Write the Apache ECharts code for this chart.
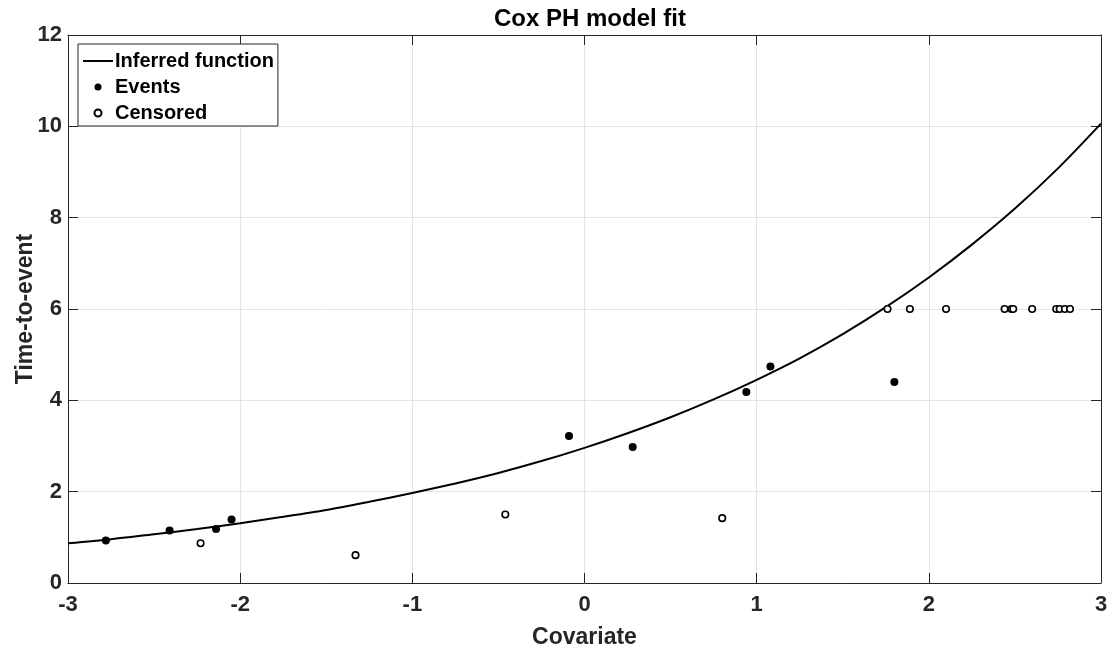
<!DOCTYPE html>
<html><head><meta charset="utf-8">
<script src="https://cdn.jsdelivr.net/npm/echarts@6/dist/echarts.min.js"></script>
<style>html,body{margin:0;padding:0;background:#fff}#c{width:1109px;height:651px}</style>
</head><body><div id="c"></div>
<script>
// Inferred function
const curveX = [-3,-2.75,-2.5,-2.25,-2,-1.75,-1.5,-1.25,-1,-0.75,-0.5,-0.25,0,0.25,0.5,0.75,1,1.25,1.5,1.75,2,2.25,2.5,2.75,3];
const curveY = [0.87,0.96,1.07,1.18,1.31,1.45,1.60,1.78,1.97,2.18,2.41,2.67,2.96,3.28,3.63,4.02,4.45,4.92,5.45,6.04,6.69,7.41,8.20,9.08,10.06];
// Events
const eventX = [-2.78,-2.41,-2.14,-2.05,-0.09,0.28,0.94,1.08,1.80];
const eventY = [0.93,1.15,1.18,1.39,3.22,2.98,4.18,4.74,4.40];
// Censored
const censX = [-2.23,-1.33,-0.46,0.80,1.76,1.89,2.10,2.44,2.48,2.49,2.60,2.74,2.76,2.79,2.82];
const censY = [0.87,0.61,1.50,1.42,6,6,6,6,6,6,6,6,6,6,6];

const zip = (a,b)=>a.map((v,i)=>[v,b[i]]);
const FONT = '"Liberation Sans", Arial, sans-serif';
const dark = '#262626';
const chart = echarts.init(document.getElementById('c'));
const baseAxis = {
  axisLine:{show:true,onZero:false,lineStyle:{color:dark,width:1}},
  axisTick:{show:true,inside:true,length:10,lineStyle:{color:dark}},
};
chart.setOption({
  animation:false,
  backgroundColor:'#fff',
  title:{text:'Cox PH model fit',left:585,textAlign:'center',top:2,
    textStyle:{fontFamily:FONT,fontWeight:'bold',fontSize:24,color:'#000'}},
  grid:{left:68,right:8,top:35,bottom:68,show:false,containLabel:false,outerBoundsMode:'none'},
  legend:{
    left:78,top:44,orient:'vertical',
    backgroundColor:'#fff',borderColor:dark,borderWidth:1,borderRadius:0,
    padding:[7,4,3,4],itemGap:6,itemWidth:30,itemHeight:7,
    textStyle:{fontFamily:FONT,fontWeight:'bold',fontSize:20,color:'#000',padding:[0,0,0,-3]},
    data:[
      {name:'Inferred function',itemStyle:{color:'rgba(0,0,0,0)',opacity:0,borderWidth:0}},
      {name:'Events'},
      {name:'Censored'}
    ]
  },
  xAxis:[
    Object.assign({type:'value',min:-3,max:3,interval:1,position:'bottom',
      name:'Covariate',nameLocation:'middle',nameGap:43,nameMoveOverlap:false,
      nameTextStyle:{fontFamily:FONT,fontWeight:'bold',fontSize:23,color:dark},
      axisLabel:{fontFamily:FONT,fontWeight:'bold',fontSize:22,color:dark,margin:11},
      splitLine:{show:true,lineStyle:{color:'#e4e4e4',width:1}}},baseAxis),
    Object.assign({type:'value',min:-3,max:3,interval:1,position:'top',
      axisLabel:{show:false},splitLine:{show:false}},baseAxis)
  ],
  yAxis:[
    Object.assign({type:'value',min:0,max:12,interval:2,position:'left',
      name:'Time-to-event',nameLocation:'middle',nameGap:31,nameRotate:90,nameMoveOverlap:false,
      nameTextStyle:{fontFamily:FONT,fontWeight:'bold',fontSize:23,color:dark},
      axisLabel:{fontFamily:FONT,fontWeight:'bold',fontSize:22,color:dark,margin:6},
      splitLine:{show:true,lineStyle:{color:'#e4e4e4',width:1}}},baseAxis),
    Object.assign({type:'value',min:0,max:12,interval:2,position:'right',
      axisLabel:{show:false},splitLine:{show:false}},baseAxis)
  ],
  series:[
    {name:'Inferred function',type:'line',data:zip(curveX,curveY),smooth:0.3,
      symbol:'none',lineStyle:{color:'#000',width:2},itemStyle:{color:'#000'},z:3},
    {name:'Events',type:'scatter',data:zip(eventX,eventY),symbol:'circle',symbolSize:8,
      itemStyle:{color:'#000',opacity:1},z:4},
    {name:'Censored',type:'scatter',data:zip(censX,censY),symbol:'circle',symbolSize:6.5,
      itemStyle:{color:'#fff',borderColor:'#000',borderWidth:1.6,opacity:1},z:4}
  ]
});
</script></body></html>
